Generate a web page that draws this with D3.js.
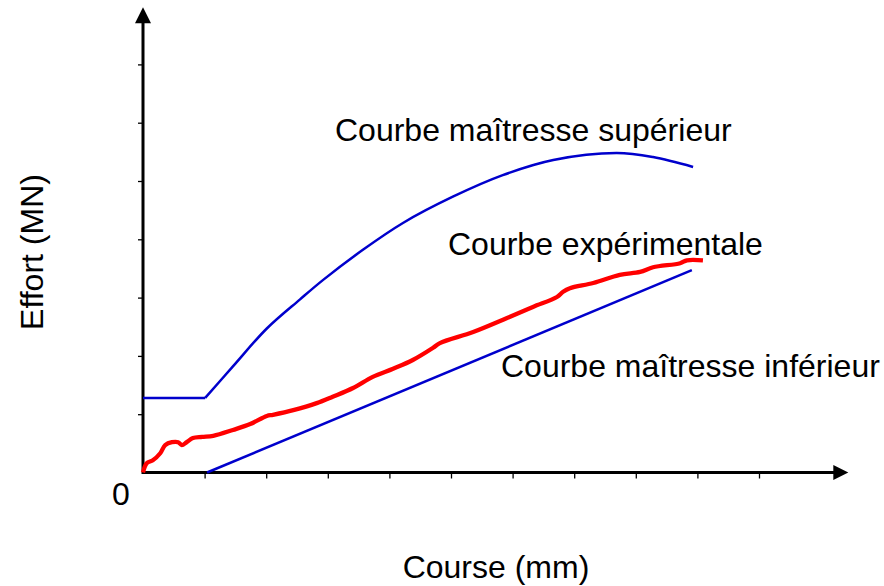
<!DOCTYPE html>
<html>
<head>
<meta charset="utf-8">
<script src="https://cdn.jsdelivr.net/npm/d3@7"></script>
<style>
html,body{margin:0;padding:0;background:#fff;}
svg{display:block;}
text{font-family:"Liberation Sans",Arial,sans-serif;fill:#000;}
</style>
</head>
<body>
<svg id="chart" width="884" height="586"></svg>
<script>
// ---- data (x in course tick units, y in effort tick units) ----
const xTicks = [1,2,3,4,5,6,7,8,9,10];
const yTicks = [1,2,3,4,5,6,7];
const upperX = [0, 1.01, 1.46, 2.01, 2.55, 2.92, 3.57, 4.22, 5.03, 5.84, 6.66, 7.69, 8.28, 8.93];
const upperY = [1.28, 1.28, 1.82, 2.47, 2.97, 3.30, 3.82, 4.28, 4.73, 5.10, 5.36, 5.48, 5.41, 5.24];
const lowerX = [1.04, 8.91];
const lowerY = [0, 3.47];
const expX = [0, 0.06, 0.16, 0.28, 0.36, 0.47, 0.57, 0.63, 0.71, 0.81, 0.96, 1.14, 1.46, 1.74, 2.01, 2.11, 2.44, 2.82, 3.08, 3.41, 3.73, 4.06, 4.38, 4.71, 4.82, 5.36, 5.91, 6.33, 6.72, 6.82, 6.93, 7.31, 7.74, 8.07, 8.28, 8.72, 8.83, 9.09];
const expY = [0, 0.16, 0.21, 0.33, 0.47, 0.52, 0.52, 0.47, 0.52, 0.59, 0.61, 0.63, 0.73, 0.83, 0.97, 0.99, 1.07, 1.19, 1.30, 1.45, 1.64, 1.78, 1.93, 2.14, 2.22, 2.41, 2.65, 2.84, 3.01, 3.10, 3.16, 3.25, 3.39, 3.44, 3.52, 3.59, 3.64, 3.64];
const labels = {
  upper: "Courbe maîtresse supérieur",
  exp: "Courbe expérimentale",
  lower: "Courbe maîtresse inférieur",
  xTitle: "Course (mm)",
  yTitle: "Effort (MN)",
  zero: "0"
};

const svg = d3.select("#chart");
const x0 = 143, y0 = 472.5;
const x = d3.scaleLinear().domain([0, 1]).range([x0, x0 + 61.6]);
const y = d3.scaleLinear().domain([0, 1]).range([y0, y0 - 58.3]);

// axes lines
const xEnd = x(11.45), yEnd = y(7.98);
svg.append("line").attr("x1", x0).attr("y1", y0).attr("x2", xEnd - 10).attr("y2", y0)
  .attr("stroke", "#000").attr("stroke-width", 3);
svg.append("line").attr("x1", x0).attr("y1", y0 + 1.5).attr("x2", x0).attr("y2", yEnd + 10)
  .attr("stroke", "#000").attr("stroke-width", 3);
svg.append("path").attr("d", `M${xEnd},${y0} L${xEnd-15},${y0-7.5} L${xEnd-15},${y0+7.5} Z`).attr("fill", "#000");
svg.append("path").attr("d", `M${x0},${yEnd} L${x0-8},${yEnd+16} L${x0+8},${yEnd+16} Z`).attr("fill", "#000");

// ticks via axis generators
const xAxis = d3.axisBottom(x).tickValues(xTicks).tickSize(6).tickFormat("");
const gx = svg.append("g").attr("transform", `translate(0,${y0})`).call(xAxis);
gx.select(".domain").remove();
gx.selectAll("line").attr("stroke", "#000").attr("stroke-width", 1.3);
const yAxis = d3.axisLeft(y).tickValues(yTicks).tickSize(5).tickFormat("");
const gy = svg.append("g").attr("transform", `translate(${x0},0)`).call(yAxis);
gy.select(".domain").remove();
gy.selectAll("line").attr("stroke", "#000").attr("stroke-width", 1.3);

// curves
const upper = upperX.map((v, i) => [v, upperY[i]]);
const lower = lowerX.map((v, i) => [v, lowerY[i]]);
const exp = expX.map((v, i) => [v, expY[i]]);
const lin = d3.line().x(d => x(d[0])).y(d => y(d[1]));
const smooth = d3.line().x(d => x(d[0])).y(d => y(d[1])).curve(d3.curveCatmullRom.alpha(0.5));

svg.append("path").attr("d", lin(upper.slice(0, 2))).attr("fill", "none")
  .attr("stroke", "#0000CC").attr("stroke-width", 2.5);
svg.append("path").attr("d", smooth(upper.slice(1))).attr("fill", "none")
  .attr("stroke", "#0000CC").attr("stroke-width", 2.5);
svg.append("path").attr("d", lin(lower)).attr("fill", "none")
  .attr("stroke", "#0000CC").attr("stroke-width", 2.5);
svg.append("path").attr("d", smooth(exp)).attr("fill", "none")
  .attr("stroke", "#FF0000").attr("stroke-width", 4.3).attr("stroke-linejoin", "round").attr("stroke-linecap", "butt");

// texts
const fs = 32;
svg.append("text").attr("x", 335).attr("y", 141).attr("font-size", fs).text(labels.upper);
svg.append("text").attr("x", 448).attr("y", 255).attr("font-size", fs).text(labels.exp);
svg.append("text").attr("x", 501).attr("y", 377).attr("font-size", fs).text(labels.lower);
svg.append("text").attr("x", 112).attr("y", 505).attr("font-size", fs).text(labels.zero);
svg.append("text").attr("x", 496).attr("y", 578).attr("font-size", fs).attr("text-anchor", "middle").text(labels.xTitle);
svg.append("text").attr("transform", "translate(43,252) rotate(-90)").attr("font-size", fs)
  .attr("text-anchor", "middle").text(labels.yTitle);
</script>
</body>
</html>
